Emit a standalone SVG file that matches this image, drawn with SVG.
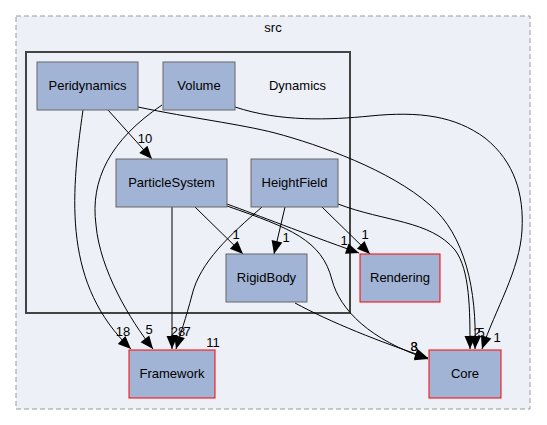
<svg xmlns="http://www.w3.org/2000/svg" width="547" height="425" viewBox="0 0 547 425">
<style>
text{font-family:"Liberation Sans",Arial,sans-serif;font-size:13px;fill:#000;text-anchor:middle}
.n rect{fill:#a2b4d6;stroke:#666;stroke-width:1}
.x rect{fill:#a2b4d6;stroke:#ff0000;stroke-width:1}
.e path{fill:none;stroke:#000;stroke-width:1;marker-end:url(#ah)}
</style>
<defs>
<marker id="ah" markerUnits="userSpaceOnUse" markerWidth="14" markerHeight="12" refX="13" refY="5.5" orient="auto" viewBox="0 0 14 12" overflow="visible">
<path d="M0,0 L13,5.5 L0,11 z" fill="#000" stroke="none"/>
</marker>
</defs>
<rect width="547" height="425" fill="#fff"/>
<g id="cluster_src">
<rect x="16" y="16" width="514" height="393" fill="#edf0f7" stroke="#999" stroke-width="1" stroke-dasharray="5,3"/>
<text x="273" y="32">src</text>
</g>
<g id="cluster_Dynamics">
<rect x="26" y="52" width="324" height="261" fill="#edf0f7" stroke="#444" stroke-width="2"/>
<text x="297.5" y="90">Dynamics</text>
</g>
<g id="edges" class="e">
<path d="M83,110 C70,200 64,285 131,349"/>
<path d="M108,110 L152,159"/>
<path d="M162,105 C110,140 90,180 96,225 C100,270 130,320 153,349"/>
<path d="M172,207 L172,349"/>
<path d="M262,207 C230,235 200,262 192,295 C186,318 180,335 176,349"/>
<path d="M195,207 L243,254"/>
<path d="M285,207 L274,254"/>
<path d="M322,207 L370,254"/>
<path d="M227,204 C260,216 300,232 359,253"/>
<path d="M227,206 C290,228 322,240 332,280 C340,310 370,340 428,359"/>
<path d="M295,303 C330,322 380,342 428,358"/>
<path d="M338,204 C385,222 430,220 455,250 C470,270 470,310 470,349"/>
<path d="M138,107 C190,118 240,124 275,133 C320,145 390,170 430,205 C465,235 477,290 475,349"/>
<path d="M235,107 C280,122 330,120 370,116 C420,111 455,116 485,138 C515,162 524,195 522,230 C520,270 495,310 482,349"/>
</g>
<g id="edge_labels">
<text x="123" y="336">18</text>
<text x="145" y="143">10</text>
<text x="149" y="334">5</text>
<text x="178" y="336">28</text>
<text x="187" y="336">7</text>
<text x="236" y="239">1</text>
<text x="286" y="242">1</text>
<text x="365" y="239">1</text>
<text x="344" y="245">1</text>
<text x="414" y="351">3</text>
<text x="414" y="351">8</text>
<text x="213" y="347">11</text>
<text x="477" y="337">2</text>
<text x="481" y="337">5</text>
<text x="497" y="342">1</text>
</g>
<g id="node_Peridynamics" class="n"><rect x="37" y="62" width="101" height="48"/><text x="87.5" y="90">Peridynamics</text></g>
<g id="node_Volume" class="n"><rect x="163" y="62" width="72" height="48"/><text x="199" y="90">Volume</text></g>
<g id="node_ParticleSystem" class="n"><rect x="116" y="159" width="111" height="48"/><text x="171.5" y="187">ParticleSystem</text></g>
<g id="node_HeightField" class="n"><rect x="251" y="159" width="87" height="48"/><text x="294.5" y="187">HeightField</text></g>
<g id="node_RigidBody" class="n"><rect x="226" y="254" width="81" height="48"/><text x="266.5" y="282">RigidBody</text></g>
<g id="node_Rendering" class="x"><rect x="360" y="254" width="80" height="48"/><text x="400" y="282">Rendering</text></g>
<g id="node_Framework" class="x"><rect x="129" y="350" width="86" height="48"/><text x="172" y="378">Framework</text></g>
<g id="node_Core" class="x"><rect x="429" y="350" width="72" height="48"/><text x="465" y="378">Core</text></g>
</svg>
